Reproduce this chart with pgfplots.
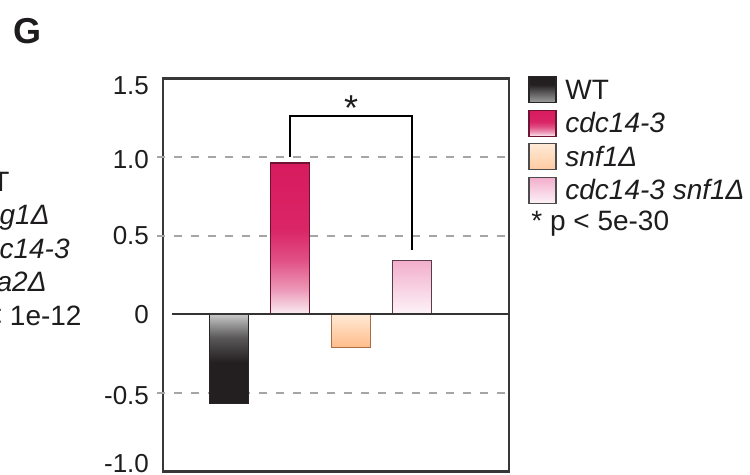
\documentclass[border=0pt]{standalone}
\usepackage{fontspec}
\setmainfont{Liberation Sans}
\usepackage{pgfplots}
\pgfplotsset{compat=1.18}
\definecolor{crim}{RGB}{216,27,94}
\definecolor{crimlt}{RGB}{250,238,244}
\definecolor{crimedge}{RGB}{110,20,50}
\definecolor{orlt}{RGB}{255,234,214}
\definecolor{ordk}{RGB}{255,188,138}
\definecolor{oredge}{RGB}{170,110,70}
\definecolor{pkdk}{RGB}{242,174,204}
\definecolor{pklt}{RGB}{253,243,248}
\definecolor{pkedge}{RGB}{90,60,70}
\definecolor{txt}{RGB}{30,28,30}
\definecolor{gridg}{RGB}{165,165,165}
\definecolor{wtlt}{RGB}{200,200,200}
\definecolor{wtmd}{RGB}{90,88,89}
\definecolor{wtdk}{RGB}{35,31,32}
% vertical shadings: 25bp = bottom of path, 75bp = top of path
\pgfdeclareverticalshading{wtsh}{100bp}{color(0bp)=(wtdk); color(25bp)=(wtdk); color(48bp)=(wtdk); color(62bp)=(wtmd); color(75bp)=(wtlt); color(100bp)=(wtlt)}
\pgfdeclareverticalshading{wtleg}{100bp}{color(0bp)=(wtlt!80!black); color(25bp)=(wtlt!80!black); color(45bp)=(wtmd); color(60bp)=(wtdk); color(75bp)=(wtdk); color(100bp)=(wtdk)}
\pgfdeclareverticalshading{cdcsh}{100bp}{color(0bp)=(crimlt); color(25bp)=(crimlt); color(33bp)=(crim!40!crimlt); color(43bp)=(crim!75!crimlt); color(53bp)=(crim!95!crimlt); color(75bp)=(crim); color(100bp)=(crim)}
\begin{document}
\begin{tikzpicture}
\useasboundingbox (-81.5pt,-1.75pt) rectangle (293.5pt,235.75pt);
\clip (-81.5pt,-1.75pt) rectangle (293.5pt,235.75pt);
\begin{axis}[
  at={(0,0)}, anchor=south west,
  scale only axis, width=173pt, height=196.5pt,
  xmin=-1.082, xmax=4.59, ymin=-1, ymax=1.5,
  ytick={-1,-0.5,0,0.5,1,1.5},
  yticklabels={\raisebox{4pt}{-1.0},\raisebox{-1pt}{-0.5},0,0.5,\raisebox{-1pt}{1.0},\raisebox{-3.5pt}{1.5}},
  xtick=\empty, major tick length=0pt,
  axis line style={line width=1.3pt, color=black!78},
  yticklabel style={font=\fontsize{13}{15}\selectfont, color=txt, anchor=base east, yshift=-4.65pt, xshift=-3.5pt},
  clip=false,
]
% dashed reference lines
\draw[gridg, line width=1pt, dash pattern=on 4pt off 4.5pt] (axis cs:-1.18,1) -- (axis cs:4.59,1);
\draw[gridg, line width=1pt, dash pattern=on 4pt off 4.5pt] (axis cs:-1.18,0.5) -- (axis cs:4.59,0.5);
\draw[gridg, line width=1pt, dash pattern=on 4pt off 4.5pt] (axis cs:-1.18,-0.5) -- (axis cs:4.59,-0.5);
% bars
\addplot[ybar, bar width=19.5pt, draw=black!85, line width=0.6pt, shading=wtsh] coordinates {(0,-0.567)};
\addplot[ybar, bar width=19.5pt, draw=crimedge, line width=0.6pt, shading=cdcsh] coordinates {(1,0.962)};
\addplot[ybar, bar width=19.5pt, draw=oredge, line width=0.6pt,
  top color=orlt, bottom color=ordk] coordinates {(2,-0.21)};
\addplot[ybar, bar width=19.5pt, draw=pkedge, line width=0.6pt,
  top color=pkdk, bottom color=pklt] coordinates {(3,0.344)};
% zero line
\draw[line width=1.2pt, black!80] (axis cs:-0.935,0) -- (axis cs:4.59,0);
% significance bracket
\draw[line width=0.7pt, black] (axis cs:1,1.0) -- (axis cs:1,1.261) -- (axis cs:3,1.261) -- (axis cs:3,0.41);
\node[anchor=base, inner sep=0pt, text=txt] at (axis cs:2,1.23) {\fontsize{18}{18}\selectfont *};
\end{axis}
% panel letter
\node[anchor=base, inner sep=0pt, text=txt] at (-67.5pt,213.8pt) {\fontsize{18}{18}\selectfont\bfseries G};
% cut-off legend of neighbouring panel
\begin{scope}[every node/.style={anchor=base east, inner sep=0pt, text=txt, font=\fontsize{14}{16}\selectfont}]
\node at (-76.5pt,139.75pt) {WT};
\node at (-56.5pt,123.25pt) {\itshape reg1Δ};
\node at (-46.5pt,106.25pt) {\itshape cdc14-3};
\node at (-58pt,89.75pt) {\itshape sna2Δ};
\node at (-40.5pt,72.75pt) {* p < 1e-12};
\end{scope}
% legend
\begin{scope}[every node/.style={anchor=base west, inner sep=0pt, text=txt, font=\fontsize{14}{16}\selectfont}]
\shade[shading=wtleg] (183pt,184.4pt) rectangle (196.5pt,197.4pt);
\draw[black!85, line width=0.6pt] (183pt,184.4pt) rectangle (196.5pt,197.4pt);
\node at (201pt,186.2pt) {WT};
\shade[shading=cdcsh] (183pt,167.6pt) rectangle (196.5pt,180.6pt);
\draw[crimedge, line width=0.6pt] (183pt,167.6pt) rectangle (196.5pt,180.6pt);
\node at (201pt,169.4pt) {\itshape cdc14-3};
\shade[top color=orlt, bottom color=ordk!70!orlt] (183pt,150.8pt) rectangle (196.5pt,163.8pt);
\draw[black!70, line width=0.6pt] (183pt,150.8pt) rectangle (196.5pt,163.8pt);
\node at (201pt,152.6pt) {\itshape snf1Δ};
\shade[top color=pkdk, bottom color=pklt] (183pt,134pt) rectangle (196.5pt,147pt);
\draw[black!70, line width=0.6pt] (183pt,134pt) rectangle (196.5pt,147pt);
\node at (201pt,135.8pt) {\itshape cdc14-3 snf1Δ};
\node at (184pt,120.6pt) {* p < 5e-30};
\end{scope}
\end{tikzpicture}
\end{document}
